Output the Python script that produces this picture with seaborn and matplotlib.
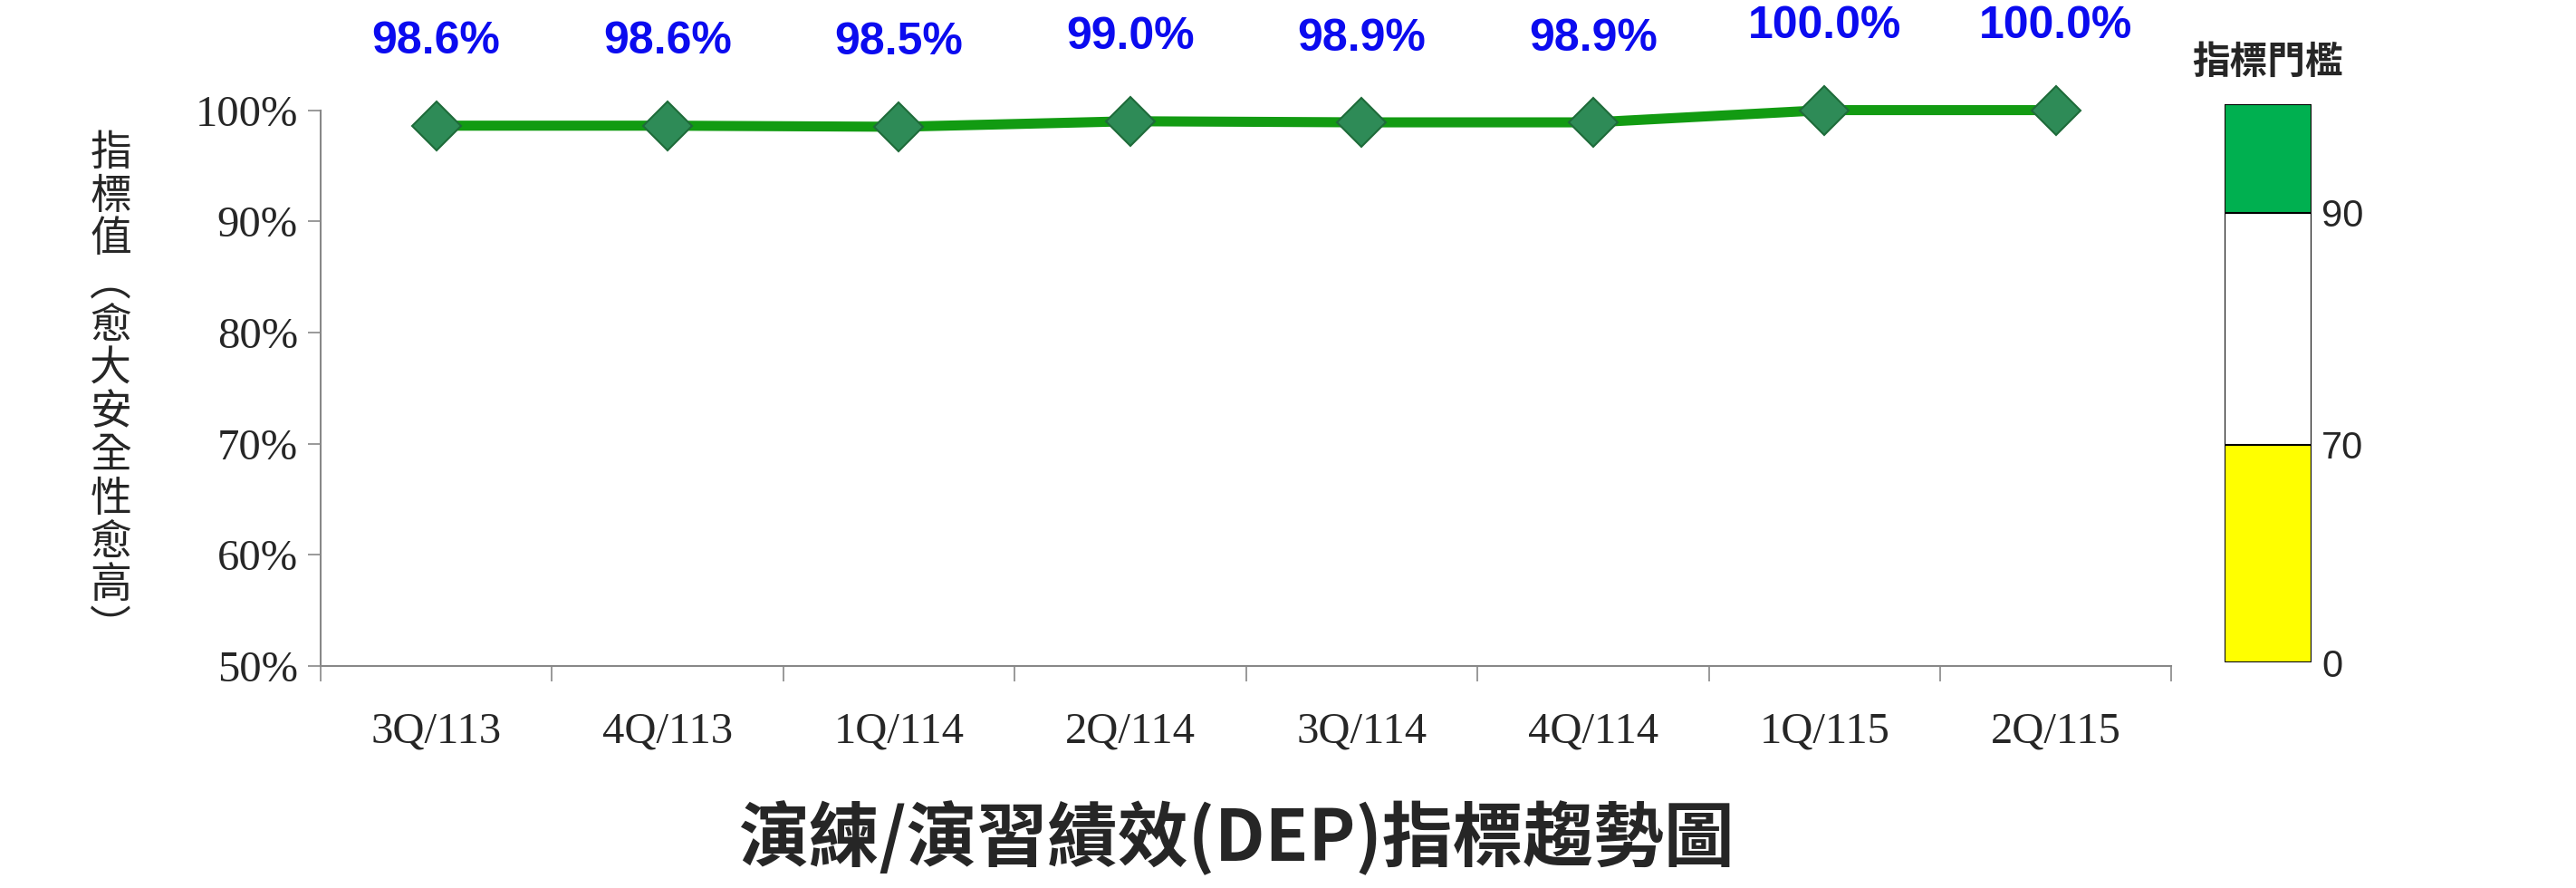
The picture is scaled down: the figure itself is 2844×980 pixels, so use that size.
import numpy as np
import pandas as pd
import seaborn as sns
import matplotlib.pyplot as plt

sns.set_theme(style="white")
plt.rcParams['font.family'] = ['Liberation Serif', 'Noto Sans CJK TC', 'DejaVu Sans']

# data
quarters = ["3Q/113", "4Q/113", "1Q/114", "2Q/114", "3Q/114", "4Q/114", "1Q/115", "2Q/115"]
values = [98.6, 98.6, 98.5, 99.0, 98.9, 98.9, 100.0, 100.0]
band_labels = ["0", "70", "90"]
band_colors = ["#FFFF00", "#FFFFFF", "#00B050"]
band_sizes = [0.39, 0.415, 0.195]   # drawn size of each threshold band

df = pd.DataFrame({"quarter": quarters, "value": values})
df["x"] = np.arange(len(df))

fig = plt.figure(figsize=(28.44, 9.80), dpi=100)
ax = fig.add_axes([0.1244, 0.25, 0.7186, 0.626])

sns.lineplot(data=df, x="x", y="value", ax=ax, color="#129B12", linewidth=8,
             marker="D", markersize=28, markerfacecolor="#2E8B57",
             markeredgecolor="#1E6B3A", markeredgewidth=1.5, clip_on=False)
for _, r in df.iterrows():
    ax.annotate(f"{r.value:.1f}%", (r.x, r.value), xytext=(0, 50), textcoords="offset points",
                ha="center", va="bottom", color="#0B0BEF", fontsize=36, fontweight="bold",
                family=["Liberation Sans", "DejaVu Sans"], annotation_clip=False)

ax.set_xlim(-0.5, len(df) - 0.5)
ax.set_ylim(50, 100)
ax.set_yticks(range(50, 101, 10))
ax.set_yticklabels([f"{v}%" for v in range(50, 101, 10)], fontsize=35)
ax.set_xticks(df["x"])
ax.set_xticklabels(quarters, fontsize=35)
ax.set_xticks(np.arange(-0.5, len(df), 1), minor=True)
ax.tick_params(axis="x", which="major", length=0, pad=36)
ax.tick_params(axis="x", which="minor", length=12, width=1.2, color="#888888", direction="out", bottom=True)
ax.tick_params(axis="y", length=10, width=1.2, color="#888888", direction="out", left=True, pad=8)
for s in ["top", "right"]:
    ax.spines[s].set_visible(False)
for s in ["left", "bottom"]:
    ax.spines[s].set_color("#888888")
    ax.spines[s].set_linewidth(1.5)
ax.set_xlabel("")
ax.set_ylabel("")

ylab = "\n".join(list("指標值︵愈大安全性愈高︶"))
fig.text(0.043, 0.56, ylab, ha="center", va="center", fontsize=33,
         family=["Noto Sans CJK TC"], linespacing=0.98)

fig.text(0.48, 0.055, "演練/演習績效(DEP)指標趨勢圖", ha="center", va="center",
         fontsize=56, fontweight="bold", family=["Noto Sans CJK TC"])

# threshold bar
cax = fig.add_axes([0.8635, 0.2537, 0.0338, 0.6293])
bottoms = np.concatenate([[0], np.cumsum(band_sizes)[:-1]])
cax.bar([0] * 3, band_sizes, bottom=bottoms, color=band_colors, width=1,
        edgecolor="black", linewidth=1.5)
cax.set_xlim(-0.5, 0.5)
cax.set_ylim(0, 1)
cax.set_xticks([])
cax.yaxis.tick_right()
cax.set_yticks(bottoms)
cax.set_yticklabels(band_labels, fontsize=30, family=["Liberation Sans"])
cax.tick_params(axis="y", length=0, pad=8)
for s in cax.spines.values():
    s.set_visible(False)
cax.text(0.5, 1.04, "指標門檻", transform=cax.transAxes, ha="center", va="bottom",
         fontsize=30, fontweight="bold", family=["Noto Sans CJK TC"])

fig.savefig("out.png", dpi=100)
